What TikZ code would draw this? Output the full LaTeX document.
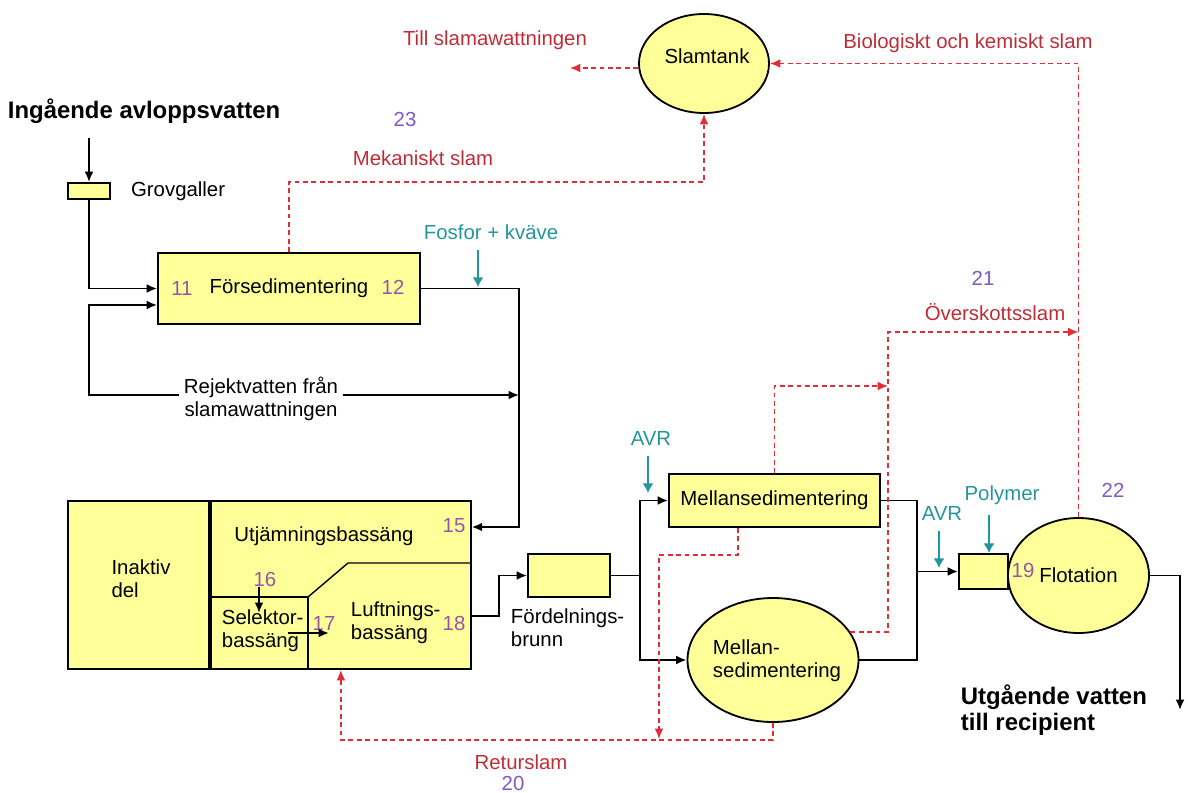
\documentclass[tikz,border=0pt]{standalone}
\usepackage{fontspec}
\setmainfont{Liberation Sans}
\usetikzlibrary{positioning,shapes.geometric,arrows.meta}

\definecolor{yel}{RGB}{255,255,153}
\definecolor{slamred}{RGB}{225,45,55}
\definecolor{redtxt}{RGB}{190,45,55}
\definecolor{dos}{RGB}{35,150,155}
\definecolor{nr}{RGB}{150,85,165}
\definecolor{nrb}{RGB}{125,90,190}

\begin{document}
\begin{tikzpicture}[x=0.25mm,y=-0.25mm,font=\fontsize{14.5}{16.5}\selectfont,
  box/.style={draw,fill=yel,line width=1.3pt,inner sep=0pt},
  tank/.style={box,ellipse},
  num/.style={text=nr,inner sep=0pt},
  nrlab/.style={text=nrb},
  slamlab/.style={text=redtxt},
  doslab/.style={text=dos},
  boldlab/.style={font=\fontsize{17}{18.5}\selectfont\bfseries,align=left},
  flow/.style={line width=1.3pt,-{Latex[length=2.6mm,width=2.2mm]}},
  slam/.style={slamred,line width=1.05pt,dash pattern=on 1.2mm off 0.9mm,-{Latex[length=2.6mm,width=2.2mm]}},
  dose/.style={dos,line width=2pt,-{Latex[length=2.4mm,width=2.8mm]},shorten <=1.5mm}] %
    \useasboundingbox (0,0) rectangle (1188,792);
    % inlopp
    \node[boldlab,anchor=west] (inlet) at (3,111) {Ingående avloppsvatten} ; %
    \coordinate (in) at (89,138) ; %
    \node[box,minimum width=10.5mm,minimum height=4mm] (grov) at (89,191) {} ; %
    \node[right=3.8mm of grov] (grovlab) {Grovgaller} ; %
    \node[box,minimum width=65.5mm,minimum height=17.75mm] (fors) at (289,288.5) {Försedimentering} ; %
    \node[num] (n11) at (182,288) {11} ; %
    \node[num] (n12) at (393,287) {12} ; %
    \node[doslab] (fos) at (491,232) {Fosfor + kväve} ; %
    \coordinate (d1) at (478,287) ; %
    \node[align=center] (rej) at (261,399) {Rejektvatten från\\slamawattningen} ; %
    \coordinate (j1) at (519,395) ; %
    % slamtank
    \node[tank,minimum width=32.5mm,minimum height=24.75mm] (tank) at (704,63.5) {} ; %
    \node (tanklab) at (707,56) {Slamtank} ; %
    \node[slamlab] (till) at (495,40) {Till slamawattningen} ; %
    \coordinate (tillslam) at (570,68) ; %
    \node[slamlab] (bio) at (968,43) {Biologiskt och kemiskt slam} ; %
    \node[nrlab] (n23) at (405,119) {23} ; %
    \node[slamlab] (mek) at (423,158) {Mekaniskt slam} ; %
    % bassänger
    \node[box,minimum width=35.25mm,minimum height=42mm] (inakt) at (138.5,585) {} ; %
    \node[align=left] (inaktlab) at (141,579) {Inaktiv\\del} ; %
    \node[box,minimum width=65mm,minimum height=42mm,right=0pt of inakt] (bas) {} ; %
    \draw[line width=1pt] (bas.west |- 0,597) -- (308,597) -- (bas.south -| 308,0) ; %
    \draw[line width=1pt] (308,597) -- (348,563) -- (bas.east |- 0,563) ; %
    \node (utj) at (324,536) {Utjämningsbassäng} ; %
    \node[align=left,anchor=west] (sel) at (217,630.5) {Selektor-\\bassäng} ; %
    \node[align=left,anchor=west] (luft) at (346,623) {Luftnings-\\bassäng} ; %
    \node[num] (n15) at (454,526) {15} ; %
    \node[num] (n16) at (265,579) {16} ; %
    \node[num] (n17) at (324,623) {17} ; %
    \node[num] (n18) at (454,623) {18} ; %
    \coordinate (b16) at (259,613) ; %
    \coordinate (a17) at (288,633) ; %
    \coordinate (b17) at (329,633) ; %
    % fördelning och mellansedimentering
    \node[box,minimum width=20.5mm,minimum height=10.75mm] (brunn) at (569,575.5) {} ; %
    \node[align=left,anchor=west] (brunnlab) at (506,627.5) {Fördelnings-\\brunn} ; %
    \coordinate (split) at (640,575.5) ; %
    \node[doslab] (avr1) at (651,438) {AVR} ; %
    \coordinate (d2) at (648,493) ; %
    \node[box,minimum width=52.75mm,minimum height=13.25mm] (msed) at (774.5,500.5) {Mellansedimentering} ; %
    \node[tank,minimum width=42.75mm,minimum height=31mm] (mell) at (773,660) {} ; %
    \node[align=left] (melllab) at (777,661) {Mellan-\\sedimentering} ; %
    \node[nrlab] (n21) at (983,278) {21} ; %
    \node[slamlab] (over) at (995,312) {Överskottsslam} ; %
    \coordinate (ov1) at (888,386) ; %
    \coordinate (ov2) at (888,332) ; %
    \node[slamlab] (retlab) at (521,762) {Returslam} ; %
    \node[nrlab] (n20) at (513,783) {20} ; %
    \coordinate (retj) at (659,739) ; %
    % flotation
    \coordinate (merge) at (917,571.5) ; %
    \node[doslab] (avr2) at (942,513) {AVR} ; %
    \coordinate (d3) at (939,568) ; %
    \node[doslab] (poly) at (1002,495) {Polymer} ; %
    \coordinate (d4) at (989,553) ; %
    \node[nrlab] (n22) at (1113,490) {22} ; %
    \node[box,minimum width=12.25mm,minimum height=8.75mm] (f19) at (983.5,571.5) {} ; %
    \node[tank,minimum width=35.25mm,minimum height=28.75mm] (flot) at (1078.5,575.5) {Flotation} ; %
    \node[num] (n19) at (1023,570) {19} ; %
    \node[boldlab,anchor=west] (utg) at (956,710) {Utgående vatten\\till recipient} ; %
    \coordinate (utlopp) at (1180,710) ; %
    % vattenflöde
    \draw[flow] (in) -- (grov.north) ; %
    \draw[flow] (grov.south) |- (fors.west) ; %
    \draw[flow] (rej.west |- j1) -| (89,305) -- (fors.west |- 0,305) ; %
    \draw[flow] (rej.east |- j1) -- (j1) ; %
    \draw[flow] (fors.east) -| (j1) |- (bas.east |- 0,527) ; %
    \draw[flow] (n16.south -| b16) -- (b16) ; %
    \draw[flow] (a17) -- (b17) ; %
    \draw[flow] (bas.east |- 0,616) -| (499,575.5) -- (brunn.west) ; %
    \draw[flow] (brunn.east) -- (split) |- (msed.west) ; %
    \draw[flow] (split) |- (mell.west) ; %
    \draw[line width=1.3pt] (msed.east) -| (mell.east -| merge) -- (mell.east) ; %
    \draw[flow] (merge) -- (f19.west) ; %
    \draw[flow] (flot.east) -| (utlopp) ; %
    % dosering
    \draw[dose] (fos.south -| d1) -- (d1) ; %
    \draw[dose] (avr1.south -| d2) -- (d2) ; %
    \draw[dose] (avr2.south -| d3) -- (d3) ; %
    \draw[dose] (poly.south -| d4) -- (d4) ; %
    % slam
    \draw[slam] (fors.north) -- ++(0,-70) -| (tank.south) ; %
    \draw[slam] (tank.west |- tillslam) -- (tillslam) ; %
    \draw[slam] (flot.north) |- (tank.east) ; %
    \draw[slam] (mell.20) -| (ov2) -- (flot.north |- ov2) ; %
    \draw[slam] (msed.north) |- (ov1) ; %
    \draw[slam] (msed.south -| 738,0) -- ++(0,27) -| (retj) ; %
    \draw[slam] (mell.south) -- ++(0,17) -| (bas.south) ; %
  \end{tikzpicture}
\end{document}
